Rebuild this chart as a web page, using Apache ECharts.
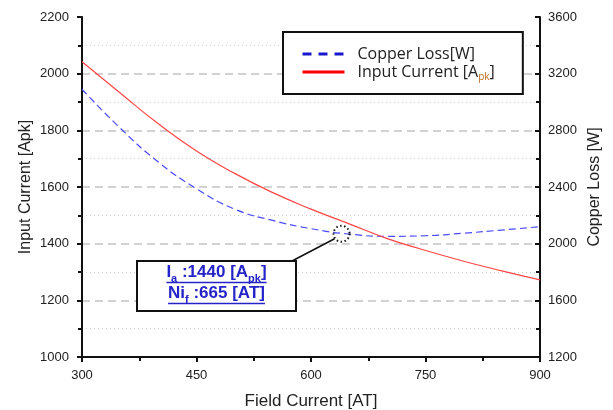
<!DOCTYPE html>
<html><head><meta charset="utf-8">
<script src="https://cdn.jsdelivr.net/npm/echarts@6/dist/echarts.min.js"></script>
<style>html,body{margin:0;padding:0;background:#fff}#c{width:613px;height:410px}</style>
</head><body><div id="c"></div>
<script>
// Field current [AT]
const fieldCurrent = [300, 350, 400, 450, 500, 550, 600, 650, 700, 750, 800, 850, 900];
// Input current [Apk] (left axis)
const inputCurrent = [2042, 1932, 1823, 1727, 1648, 1580, 1522, 1470, 1418, 1376, 1338, 1304, 1272];
// Copper loss [W] (right axis)
const copperLoss = [3090, 2816, 2576, 2388, 2244, 2164, 2106, 2068, 2052, 2056, 2074, 2096, 2120];
const xTicks = [300, 450, 600, 750, 900];
const leftTicks = [1000, 1200, 1400, 1600, 1800, 2000, 2200];
const rightTicks = [1200, 1600, 2000, 2400, 2800, 3200, 3600];
const markerPoint = [640, 1435];
const annoLines = [['I', 'a', ' :1440 [A', 'pk', ']'], ['Ni', 'f', ' :665 [AT]']];

const chart = echarts.init(document.getElementById('c'));
const FONT = 'Liberation Sans';
const axisLbl = {color: '#222', fontSize: 13, fontFamily: FONT, formatter: (v) => String(v)};
const nameSt = {color: '#222', fontSize: 16, fontFamily: FONT};
const pairs = (ys) => fieldCurrent.map((x, i) => [x, ys[i]]);
const LF = 'Open Sans';

chart.setOption({
  animation: false,
  grid: {left: 82, right: 73, top: 17, bottom: 53, outerBoundsMode: 'none', containLabel: false},
  legend: {
    orient: 'vertical', left: 283, top: 32,
    padding: [14, 28, 12, 18], itemGap: 2, itemWidth: 42, itemHeight: 20,
    borderColor: '#111', borderWidth: 2, backgroundColor: '#fff',
    itemStyle: {opacity: 0},
    textStyle: {fontFamily: LF, fontSize: 16, color: '#222',
      rich: {sub: {fontFamily: LF, fontSize: 10, lineHeight: 10, verticalAlign: 'bottom', color: '#b86a20'},
             f: {fontFamily: LF, fontSize: 16, lineHeight: 20, color: '#222', padding: [0, 0, 0, 8]},
             m: {fontFamily: LF, fontSize: 16, lineHeight: 20, color: '#222'}}},
    formatter: (n) => n === 'Input Current [Apk]' ? '{f|Input Current [A}{sub|pk}{m|]}' : '{f|' + n + '}',
    data: [
      {name: 'Copper Loss[W]', itemStyle: {opacity: 0}, lineStyle: {width: 3, color: '#1a1acc', type: [9, 7]}},
      {name: 'Input Current [Apk]', itemStyle: {opacity: 0}, lineStyle: {width: 3, color: '#ff0000'}}
    ]
  },
  xAxis: {
    type: 'value', min: 300, max: 900, interval: 150,
    name: 'Field Current [AT]', nameLocation: 'middle', nameGap: 36, nameMoveOverlap: false,
    nameTextStyle: Object.assign({}, nameSt, {fontSize: 17}),
    axisLine: {lineStyle: {color: '#111', width: 2}},
    axisTick: {length: 5, lineStyle: {color: '#111', width: 2}},
    minorTick: {show: true, splitNumber: 2, length: 4, lineStyle: {color: '#111', width: 2}},
    axisLabel: Object.assign({margin: 12}, axisLbl),
    splitLine: {show: false}
  },
  yAxis: [{
    type: 'value', min: 1000, max: 2200, interval: 200, position: 'left',
    name: 'Input Current [Apk]', nameLocation: 'middle', nameGap: 48, nameMoveOverlap: false, nameTextStyle: nameSt,
    axisLine: {show: true, lineStyle: {color: '#111', width: 2}},
    axisTick: {show: true, length: 5, lineStyle: {color: '#111', width: 2}},
    minorTick: {show: true, splitNumber: 2, length: 4, lineStyle: {color: '#111', width: 2}},
    axisLabel: Object.assign({margin: 13}, axisLbl),
    splitLine: {show: true, showMinLine: false, showMaxLine: false, lineStyle: {color: '#c4c4c4', width: 1.5, type: [8, 5]}},
    minorSplitLine: {show: true, lineStyle: {color: '#cfcfcf', width: 1, type: [1, 3]}}
  }, {
    type: 'value', min: 1200, max: 3600, interval: 400, position: 'right',
    name: 'Copper Loss [W]', nameLocation: 'middle', nameGap: 47, nameRotate: 90, nameMoveOverlap: false, nameTextStyle: nameSt,
    axisLine: {show: true, lineStyle: {color: '#111', width: 2}},
    axisTick: {show: true, inside: true, length: 5, lineStyle: {color: '#111', width: 2}},
    minorTick: {show: true, splitNumber: 2, length: 4, lineStyle: {color: '#111', width: 2}},
    axisLabel: Object.assign({margin: 8}, axisLbl),
    splitLine: {show: false}
  }],
  series: [{
    name: 'Copper Loss[W]', type: 'line', yAxisIndex: 1, smooth: true, symbol: 'none',
    data: pairs(copperLoss), lineStyle: {color: '#4a4aff', width: 1.2, type: [7, 4]}, z: 3
  }, {
    name: 'Input Current [Apk]', type: 'line', yAxisIndex: 0, smooth: true, symbol: 'none',
    data: pairs(inputCurrent), lineStyle: {color: '#ff4545', width: 1.2}, z: 3
  }]
});

// annotation
const c = chart.convertToPixel({xAxisIndex: 0, yAxisIndex: 0}, markerPoint);
const box = {x: 137, y: 261, w: 159, h: 50};
const meas = document.createElement('canvas').getContext('2d');
const MAINF = 'bold 17px "Liberation Sans"', SUBF = 'bold 11px "Liberation Sans"';
const blue = '#2424c8';
const els = [
  {type: 'rect', shape: {x: box.x, y: box.y, width: box.w, height: box.h}, style: {fill: '#fff', stroke: '#111', lineWidth: 2}, z: 10},
  {type: 'line', shape: {x1: box.x + box.w - 4, y1: box.y, x2: c[0] - 7, y2: c[1] + 5}, style: {stroke: '#111', lineWidth: 1.5}, z: 10},
  {type: 'circle', shape: {cx: c[0], cy: c[1], r: 8}, style: {fill: 'none', stroke: '#111', lineWidth: 2, lineDash: [1.5, 2.5]}, z: 10}
];
annoLines.forEach((parts, li) => {
  let total = 0;
  const widths = parts.map((p, i) => { meas.font = i % 2 ? SUBF : MAINF; const w = meas.measureText(p).width; total += w; return w; });
  const x0 = box.x + (box.w - total) / 2;
  let x = x0;
  const base = box.y + 20 + li * 21;
  parts.forEach((p, i) => {
    const sub = i % 2 === 1;
    els.push({type: 'text', x: x, y: sub ? base + 3 : base, style: {text: p, font: sub ? SUBF : MAINF, fill: blue, verticalAlign: 'bottom', align: 'left'}, z: 11});
    x += widths[i];
  });
  els.push({type: 'line', shape: {x1: x0, y1: base + 1.5, x2: x0 + total, y2: base + 1.5}, style: {stroke: blue, lineWidth: 1.3}, z: 11});
});
chart.setOption({graphic: els});
</script></body></html>
